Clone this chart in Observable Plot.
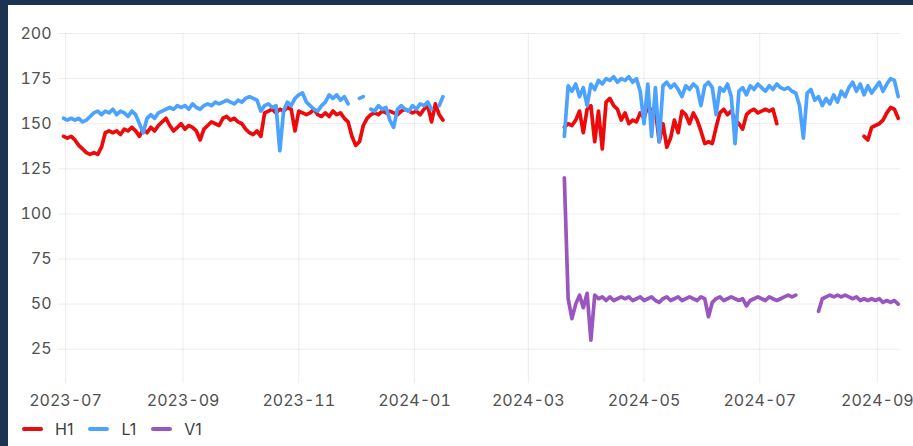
<!DOCTYPE html>
<html>
<head>
<meta charset="utf-8">
<script src="https://cdn.jsdelivr.net/npm/d3@7"></script>
<script src="https://cdn.jsdelivr.net/npm/@observablehq/plot@0.6"></script>
<style>
  html, body { margin: 0; padding: 0; width: 913px; height: 446px; overflow: hidden; background: #1d3352; font-family: Inter, Roboto, sans-serif; }
  #panel { position: absolute; left: 8px; top: 5px; width: 905px; height: 441px; background: #fff; overflow: hidden; }
  #chart { position: absolute; left: 0; top: 0; }
  #legend { position: absolute; left: 14px; top: 414px; display: flex; align-items: center; gap: 15px; font-size: 16px; color: #3d3d3d; }
  .item { display: flex; align-items: center; }
  .sw { width: 21px; height: 4px; border-radius: 2px; margin-right: 12px; }
</style>
</head>
<body>
<div id="panel">
  <div id="chart"></div>
  <div id="legend"></div>
</div>
<script>
// Series names and colours
const seriesNames = ["H1", "L1", "V1"];
const seriesColors = ["#ee0a0a", "#4ca3ff", "#9a56bf"];

// Axis ticks
const yTicks = [25, 50, 75, 100, 125, 150, 175, 200];
const xTickLabels = ["2023-07", "2023-09", "2023-11", "2024-01", "2024-03", "2024-05", "2024-07", "2024-09"];

// Sampling: every 2 days from the segment start
const seg1Start = "2023-06-30";
const seg2Start = "2024-03-20";
const gapDate = "2024-02-15";

const h1Seg1 = [143,142,143,141,138,136,134,133,134,133,
  137,145,146,145,146,144,147,146,148,146,
  143,147,145,148,146,149,151,153,149,146,
  148,150,147,149,148,146,141,147,149,151,
  150,149,153,154,152,153,151,150,147,145,
  144,146,143,156,157,158,156,158,157,159,
  158,146,157,156,155,156,158,155,154,156,
  154,157,155,156,153,151,143,138,140,149,
  153,155,156,155,157,156,157,156,155,157,
  158,157,156,157,155,158,160,151,161,155,
  152];

const l1Seg1 = [153,152,153,152,153,151,152,154,156,157,
  155,157,156,158,155,157,156,154,157,155,
  150,145,153,155,153,156,157,158,159,158,
  160,159,160,158,161,159,158,160,161,160,
  162,161,162,163,162,161,163,162,164,165,
  164,163,157,160,161,159,160,135,157,162,
  160,164,166,167,162,160,158,157,160,162,
  166,164,166,163,165,161,null,null,164,165,
  null,158,157,160,158,159,152,148,158,160,
  158,157,160,158,161,160,162,158,null,160,
  165];

const h1Seg2 = [148,150,149,152,157,145,158,160,140,157,
  136,162,164,160,158,152,156,150,152,151,
  156,153,160,157,158,140,150,137,142,152,
  145,157,155,150,156,152,146,139,140,139,
  148,156,158,155,157,152,150,147,155,157,
  158,156,157,158,157,158,150,null,null,null,
  null,null,null,null,null,null,null,null,null,null,
  null,null,null,null,null,null,null,null,null,
  143,141,148,149,150,152,156,159,158,153];

const l1Seg2 = [143,171,168,172,165,170,160,172,169,174,
  172,175,174,176,173,175,174,176,173,175,
  168,150,172,143,170,140,171,173,170,172,
  169,165,171,169,172,170,160,171,173,170,
  155,170,168,172,165,139,168,170,166,171,
  169,172,170,168,171,169,172,170,169,170,
  168,167,160,142,167,169,163,165,160,164,
  161,166,162,168,165,170,173,168,172,166,
  171,167,170,173,168,172,175,174,165];

const v1Seg2 = [120,53,42,50,55,48,56,30,55,53,
  54,52,54,52,53,54,53,54,52,53,
  54,52,53,54,52,51,53,54,52,53,
  54,52,53,54,53,52,54,53,43,51,
  53,54,52,53,54,53,52,53,49,52,
  53,54,53,52,54,53,52,53,54,55,
  54,55,null,null,null,null,null,46,53,54,
  55,54,55,54,55,54,53,54,52,53,
  52,53,52,53,51,52,51,52,50];

function rows(series, start, vals) {
  const s = new Date(start + "T00:00:00Z");
  return vals.map((v, i) => ({ series, date: d3.utcDay.offset(s, 2 * i), value: v }));
}
const gap = (series) => ({ series, date: new Date(gapDate + "T00:00:00Z"), value: null });

const data = [
  ...rows("H1", seg1Start, h1Seg1), gap("H1"), ...rows("H1", seg2Start, h1Seg2),
  ...rows("L1", seg1Start, l1Seg1), gap("L1"), ...rows("L1", seg2Start, l1Seg2),
  ...rows("V1", seg2Start, v1Seg2)
];

const xTicks = xTickLabels.map(t => new Date(t + "-01T00:00:00Z"));

const chart = Plot.plot({
  width: 905,
  height: 410,
  marginLeft: 50,
  marginRight: 13,
  marginTop: 28,
  marginBottom: 32,
  style: { fontFamily: "Inter, Roboto, sans-serif", fontSize: "16px", color: "#505050", background: "transparent", overflow: "visible" },
  x: { type: "utc", domain: [new Date("2023-06-27T08:00:00Z"), new Date("2024-09-13T05:00:00Z")] },
  y: { domain: [6, 200] },
  color: { domain: seriesNames, range: seriesColors },
  marks: [
    Plot.gridY(yTicks, { stroke: "#000", strokeOpacity: 0.075 }),
    Plot.gridX(xTicks, { stroke: "#000", strokeOpacity: 0.075 }),
    Plot.axisY(yTicks, { tickSize: 0, tickPadding: 7, fontSize: 16, label: null }),
    Plot.axisX(xTicks, { tickSize: 0, tickPadding: 11, fontSize: 16, label: null, tickFormat: d3.utcFormat("%Y-%m") }),
    Plot.line(data, { x: "date", y: "value", z: "series", stroke: "series", strokeWidth: 3.7, strokeLinejoin: "round", strokeLinecap: "round" })
  ]
});
document.getElementById("chart").appendChild(chart);

const legend = document.getElementById("legend");
seriesNames.forEach((name, i) => {
  const item = document.createElement("div");
  item.className = "item";
  const sw = document.createElement("div");
  sw.className = "sw";
  sw.style.background = seriesColors[i];
  const label = document.createElement("span");
  label.textContent = name;
  item.appendChild(sw);
  item.appendChild(label);
  legend.appendChild(item);
});
</script>
</body>
</html>
